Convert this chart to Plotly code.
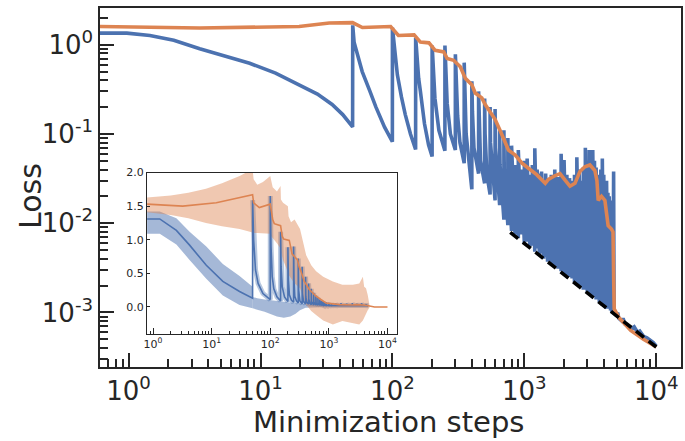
import math
import plotly.graph_objects as go

BLUE = "#4C72B0"
ORANGE = "#DD8452"
INK = "#262626"

# ---------------- main panel: single run (log-log) ----------------
blue_early_steps = [0.607, 0.97, 1.45, 2.2, 3.46, 5.4, 8.27, 13, 19.6, 27, 34.9, 42, 49.9,
                    50, 51.2, 55, 59, 67, 75, 87, 99.9,
                    100, 103, 109, 117, 125, 137, 149.9,
                    150, 153, 158, 163, 175, 188, 199.9,
                    200, 203, 210, 225, 249.9,
                    250, 253, 260, 275, 299.9,
                    300, 303, 312, 325, 349.9,
                    350, 353, 362, 399.9,
                    400, 404, 415, 449.9,
                    450, 454, 465, 499.9,
                    500, 504, 520, 549.9,
                    550, 554, 599.9,
                    600, 604, 649.9,
                    650, 654, 699.9,
                    700, 704, 749.9,
                    750, 754, 799.9]
blue_early_loss = [1.35, 1.35, 1.27, 1.12, 0.90, 0.75, 0.62, 0.48, 0.356, 0.28, 0.214, 0.165, 0.12,
                   1.65, 1.07, 0.70, 0.50, 0.31, 0.20, 0.12, 0.082,
                   1.55, 0.95, 0.46, 0.26, 0.166, 0.10, 0.067,
                   1.20, 0.70, 0.42, 0.30, 0.13, 0.075, 0.056,
                   0.98, 0.60, 0.25, 0.11, 0.065,
                   0.98, 0.55, 0.22, 0.10, 0.066,
                   0.78, 0.45, 0.16, 0.08, 0.047,
                   0.63, 0.35, 0.10, 0.024,
                   0.39, 0.18, 0.07, 0.036,
                   0.30, 0.13, 0.05, 0.028,
                   0.25, 0.10, 0.035, 0.021,
                   0.20, 0.08, 0.018,
                   0.19, 0.07, 0.016,
                   0.11, 0.045, 0.011,
                   0.11, 0.04, 0.0095,
                   0.09, 0.035, 0.0082]

dense_restart_steps = [800, 850, 900, 950, 1000, 1050, 1100, 1150, 1200, 1250, 1300, 1350, 1400, 1450, 1500,
                       1600, 1700, 1800, 1900, 2000, 2100, 2200, 2300, 2400, 2500, 2600, 2700, 2800, 2900,
                       3000, 3100, 3200, 3300, 3400, 3500, 3600, 3700, 3800, 3900, 4000, 4100, 4200, 4300,
                       4400, 4500, 4600, 4700, 4750]
dense_peak_loss = [0.074, 0.045, 0.066, 0.040, 0.050, 0.053, 0.035, 0.045, 0.069, 0.040, 0.036, 0.038, 0.030,
                   0.036, 0.032, 0.035, 0.040, 0.033, 0.060, 0.051, 0.035, 0.032, 0.030, 0.035, 0.055,
                   0.040, 0.030, 0.042, 0.070, 0.050, 0.066, 0.045, 0.066, 0.050, 0.042, 0.035, 0.030,
                   0.040, 0.053, 0.035, 0.028, 0.030, 0.022, 0.020, 0.018, 0.015, 0.016, 0.038]
dense_valley_loss = [0.0075, 0.0068, 0.0075, 0.0060, 0.0062, 0.0054, 0.0056, 0.0048, 0.0052, 0.0043, 0.0046,
                     0.0040, 0.0042, 0.0037, 0.0035, 0.0033, 0.0031, 0.0029, 0.0027, 0.0026, 0.0025,
                     0.0024, 0.0022, 0.0021, 0.0020, 0.0019, 0.0018, 0.0018, 0.0017, 0.0016, 0.0016,
                     0.0015, 0.0015, 0.0014, 0.0014, 0.0013, 0.0013, 0.0012, 0.0012, 0.0012, 0.0011,
                     0.0011, 0.0011, 0.00105, 0.0010, 0.0010, 0.0010, 0.00098]
blue_tail_steps = [4790, 4900, 5000, 5100, 5200, 5500, 5600, 5800, 6200, 6500, 6800, 7200, 7500, 8000,
                   8500, 9000, 9500, 10000]
blue_tail_loss = [0.0010, 0.00096, 0.00092, 0.0010, 0.00086, 0.00080, 0.00086, 0.00074, 0.00070, 0.00066,
                  0.00069, 0.00060, 0.00062, 0.00054, 0.00052, 0.00049, 0.00046, 0.00042]

orange_steps = [0.607, 3.46, 19.6, 33.2, 49.9, 59.2, 96.9, 111, 146, 163, 189, 211, 245, 260, 291, 327,
                357, 400, 424, 476, 505, 567, 600, 656, 758, 853, 960, 1080, 1240, 1440, 1521, 1700,
                1864, 2050, 2217, 2419, 2637, 2876, 3140, 3424, 3550, 3629, 3845, 4080, 4318, 4575,
                4700, 4760, 4800, 5200, 6400, 8000, 10000]
orange_loss = [1.60, 1.54, 1.60, 1.75, 1.77, 1.56, 1.60, 1.27, 1.29, 1.07, 1.05, 0.865, 0.83, 0.70, 0.67,
               0.566, 0.42, 0.356, 0.288, 0.254, 0.214, 0.166, 0.146, 0.109, 0.066, 0.058, 0.047, 0.041,
               0.035, 0.028, 0.031, 0.034, 0.036, 0.030, 0.026, 0.028, 0.038, 0.043, 0.045, 0.039, 0.030,
               0.018, 0.020, 0.018, 0.0094, 0.0086, 0.0080, 0.0022, 0.0011, 0.00088, 0.00063, 0.00050,
               0.00041]

powerlaw_steps = [782, 10000]
powerlaw_loss = [0.0079, 0.00041]

# ---------------- inset: mean +/- band (log-x, linear-y) ----------------
inset_blue_steps = [0.79, 1.3, 2.5, 4.2, 8.1, 15.5, 29.9, 49.9,
                    50, 52, 56, 62, 75, 99.9,
                    100, 103, 108, 115, 130, 149.9,
                    150, 153, 160, 175, 199.9,
                    200, 204, 212, 230, 249.9,
                    250, 254, 262, 280, 299.9,
                    300, 305, 320, 349.9,
                    350, 355, 370, 399.9,
                    400, 405, 420, 449.9,
                    450, 455, 470, 499.9,
                    500, 506, 549.9, 550, 556, 599.9, 600, 607, 649.9, 650, 657, 699.9,
                    700, 707, 749.9, 750, 757, 799.9, 800, 810, 849.9, 850, 860, 899.9,
                    900, 910, 999.9, 1000, 1020, 1099.9, 1100, 1120, 1299.9, 1300, 1330, 1599.9,
                    1600, 1650, 1999.9, 2000, 2050, 2499.9, 2500, 2560, 2999.9, 3000, 3060, 3599.9,
                    3600, 3700, 4299.9, 4300, 4400, 4700]
inset_blue_mean = [1.31, 1.31, 1.14, 0.92, 0.62, 0.38, 0.23, 0.13,
                   1.59, 1.0, 0.55, 0.35, 0.2, 0.11,
                   1.65, 0.9, 0.45, 0.27, 0.15, 0.09,
                   1.12, 0.6, 0.3, 0.15, 0.08,
                   0.89, 0.4, 0.18, 0.1, 0.07,
                   0.9, 0.4, 0.16, 0.09, 0.06,
                   0.72, 0.25, 0.09, 0.05,
                   0.6, 0.2, 0.08, 0.045,
                   0.45, 0.15, 0.07, 0.04,
                   0.35, 0.12, 0.06, 0.035,
                   0.27, 0.08, 0.03, 0.21, 0.07, 0.03, 0.17, 0.05, 0.028, 0.14, 0.045, 0.027,
                   0.11, 0.04, 0.026, 0.09, 0.035, 0.025, 0.08, 0.03, 0.025, 0.07, 0.03, 0.024,
                   0.07, 0.03, 0.023, 0.06, 0.025, 0.022, 0.055, 0.025, 0.022, 0.05, 0.025, 0.022,
                   0.055, 0.025, 0.022, 0.05, 0.024, 0.022, 0.055, 0.024, 0.022, 0.05, 0.024, 0.022,
                   0.055, 0.024, 0.022, 0.045, 0.022, 0.02]

inset_blue_band_steps = [0.79, 1.3, 2.5, 4.2, 8.1, 15.5, 29.9, 49.9]
inset_blue_band_upper = [1.42, 1.42, 1.32, 1.12, 0.90, 0.64, 0.46, 0.30]
inset_blue_band_lower = [1.09, 1.09, 0.93, 0.70, 0.42, 0.17, 0.03, -0.02]

inset_blue_low_steps = [50, 60, 80, 100, 130, 170, 220, 270, 320, 400, 600, 1000, 4700]
inset_blue_low_upper = [0.15, 0.13, 0.11, 0.10, 0.09, 0.08, 0.07, 0.06, 0.05, 0.04, 0.035, 0.03, 0.03]
inset_blue_low_lower = [-0.02, -0.04, -0.07, -0.10, -0.14, -0.16, -0.14, -0.10, -0.05, -0.01, 0.0, 0.0, 0.0]

inset_orange_steps = [0.79, 3.2, 12, 30, 49.9, 52, 65, 99.9, 110, 117, 150, 160, 170, 211, 225, 235, 292,
                      310, 334, 380, 464, 605, 890, 1500, 2500, 3000, 4300, 6000, 10000]
inset_orange_mean = [1.53, 1.50, 1.55, 1.63, 1.67, 1.55, 1.48, 1.53, 1.30, 1.24, 1.21, 1.05, 1.01, 0.99,
                     0.85, 0.79, 0.70, 0.60, 0.53, 0.38, 0.26, 0.16, 0.06, 0.035, 0.03, 0.035, 0.025,
                     0.0, 0.0]

inset_orange_band_steps = [0.79, 2, 4, 8, 15, 30, 49.9, 52, 60, 75, 99.9, 102, 110, 130, 149.9, 152, 165,
                           199.9, 205, 226, 260, 322, 410, 500, 605, 800, 1170, 1700, 2560, 3300, 3800,
                           4000, 4300, 4600, 5000]
inset_orange_band_upper = [1.63, 1.66, 1.70, 1.76, 1.84, 1.95, 2.05, 1.90, 1.82, 1.86, 1.95, 1.90, 1.78,
                           1.72, 1.80, 1.60, 1.55, 1.50, 1.35, 1.26, 1.30, 1.16, 0.77, 0.62, 0.53, 0.45,
                           0.38, 0.33, 0.33, 0.35, 0.45, 0.30, 0.28, 0.18, 0.0]
inset_orange_band_lower = [1.41, 1.37, 1.32, 1.25, 1.20, 1.16, 1.11, 1.10, 1.10, 1.10, 1.09, 1.06, 1.02,
                           0.95, 0.87, 0.82, 0.70, 0.52, 0.48, 0.42, 0.35, 0.28, 0.035, -0.06, -0.12,
                           -0.20, -0.26, -0.21, -0.24, -0.26, -0.20, -0.15, -0.11, -0.05, 0.0]

# ---------------- tick labels ----------------
main_x_tickvals = [1, 10, 100, 1000, 10000]
main_x_ticktext = ["10<sup>0</sup>", "10<sup>1</sup>", "10<sup>2</sup>", "10<sup>3</sup>", "10<sup>4</sup>"]
main_y_tickvals = [0.001, 0.01, 0.1, 1]
main_y_ticktext = ["10<sup>-3</sup>", "10<sup>-2</sup>", "10<sup>-1</sup>", "10<sup>0</sup>"]
inset_y_tickvals = [0.0, 0.5, 1.0, 1.5, 2.0]
inset_y_ticktext = ["0.0", "0.5", "1.0", "1.5", "2.0"]

minor_x = [m * 10 ** e for e in range(-1, 4) for m in range(2, 10)]
minor_y = [m * 10 ** e for e in range(-4, 1) for m in range(2, 10)]

# ---------------- build blue single-run trace ----------------
bx = list(blue_early_steps)
by = list(blue_early_loss)
for i, s in enumerate(dense_restart_steps):
    bx.append(s)
    by.append(dense_peak_loss[i])
    nxt = dense_restart_steps[i + 1] if i + 1 < len(dense_restart_steps) else blue_tail_steps[0]
    bx.append(nxt - 0.1)
    by.append(dense_valley_loss[i])
bx += blue_tail_steps
by += blue_tail_loss

fig = go.Figure()

fig.add_trace(go.Scatter(x=bx, y=by, mode="lines", line=dict(color=BLUE, width=3.6),
                         xaxis="x", yaxis="y", hoverinfo="skip"))
fig.add_trace(go.Scatter(x=orange_steps, y=orange_loss, mode="lines", line=dict(color=ORANGE, width=3.6),
                         xaxis="x", yaxis="y", hoverinfo="skip"))
fig.add_trace(go.Scatter(x=powerlaw_steps, y=powerlaw_loss, mode="lines",
                         line=dict(color="black", width=3.6, dash="10px,6px"),
                         xaxis="x", yaxis="y", hoverinfo="skip"))

# inset bands
BLUE_BAND = "rgba(76,114,176,0.5)"
ORANGE_BAND = "rgba(221,132,82,0.45)"


def band(xs, lo, hi, color):
    fig.add_trace(go.Scatter(x=xs + xs[::-1], y=hi + lo[::-1], mode="lines", fill="toself",
                             fillcolor=color, line=dict(width=0), xaxis="x2", yaxis="y2",
                             hoverinfo="skip"))


band(inset_blue_band_steps, inset_blue_band_lower, inset_blue_band_upper, BLUE_BAND)
band(inset_blue_low_steps, inset_blue_low_lower, inset_blue_low_upper, BLUE_BAND)
# light halo around the restart spikes (spread of the runs)
fig.add_trace(go.Scatter(x=inset_blue_steps[8:], y=inset_blue_mean[8:], mode="lines",
                         line=dict(color="rgba(76,114,176,0.4)", width=5), xaxis="x2", yaxis="y2",
                         hoverinfo="skip"))
band(inset_orange_band_steps, inset_orange_band_lower, inset_orange_band_upper, ORANGE_BAND)
fig.add_trace(go.Scatter(x=inset_blue_steps, y=inset_blue_mean, mode="lines",
                         line=dict(color=BLUE, width=1.6), xaxis="x2", yaxis="y2", hoverinfo="skip"))
fig.add_trace(go.Scatter(x=inset_orange_steps, y=inset_orange_mean, mode="lines",
                         line=dict(color=ORANGE, width=1.6), xaxis="x2", yaxis="y2", hoverinfo="skip"))

axis_common = dict(showline=True, mirror=True, linecolor=INK, showgrid=False, zeroline=False,
                   tickcolor=INK, ticks="inside")

fig.update_layout(
    width=685, height=441,
    margin=dict(l=100, r=2, t=2, b=74),
    paper_bgcolor="white", plot_bgcolor="white",
    showlegend=False,
    font=dict(family="DejaVu Sans", color=INK),
    xaxis=dict(type="log", range=[math.log10(0.607), math.log10(1.54e4)], domain=[0, 1], anchor="y",
               linewidth=1.5, ticklen=14, tickwidth=2,
               tickvals=main_x_tickvals, ticktext=main_x_ticktext, tickfont=dict(size=26, color=INK),
               minor=dict(ticks="inside", ticklen=8, tickwidth=1.5, tickcolor=INK, tickvals=minor_x),
               **axis_common),
    yaxis=dict(type="log", range=[math.log10(2.45e-4), math.log10(2.58)], domain=[0, 1], anchor="x",
               linewidth=1.5, ticklen=14, tickwidth=2,
               tickvals=main_y_tickvals, ticktext=main_y_ticktext, tickfont=dict(size=26, color=INK),
               minor=dict(ticks="inside", ticklen=8, tickwidth=1.5, tickcolor=INK, tickvals=minor_y),
               **axis_common),
    xaxis2=dict(type="log", range=[math.log10(0.79), math.log10(1.48e4)], domain=[0.081, 0.512],
                anchor="y2", linewidth=1, ticklen=6, tickwidth=1,
                tickvals=main_x_tickvals, ticktext=main_x_ticktext, tickfont=dict(size=11, color=INK),
                minor=dict(ticks="inside", ticklen=3, tickwidth=1, tickcolor=INK, tickvals=minor_x),
                **axis_common),
    yaxis2=dict(range=[-0.4, 2.0], domain=[0.0923, 0.5416], anchor="x2", linewidth=1, ticklen=3,
                tickwidth=1, tickvals=inset_y_tickvals, ticktext=inset_y_ticktext,
                tickfont=dict(size=11, color=INK), **axis_common),
    annotations=[
        dict(text="Loss", xref="paper", yref="paper", x=-0.12, y=0.477, showarrow=False,
             textangle=-90, font=dict(size=30, color=INK), xanchor="center", yanchor="middle"),
        dict(text="Minimization steps", xref="paper", yref="paper", x=0.497, y=-0.152,
             showarrow=False, font=dict(size=29, color=INK), xanchor="center", yanchor="middle"),
    ],
)

fig.write_html("out.html", config={"displayModeBar": False},
               post_script="document.body.style.margin='0';document.body.style.overflow='hidden';")
